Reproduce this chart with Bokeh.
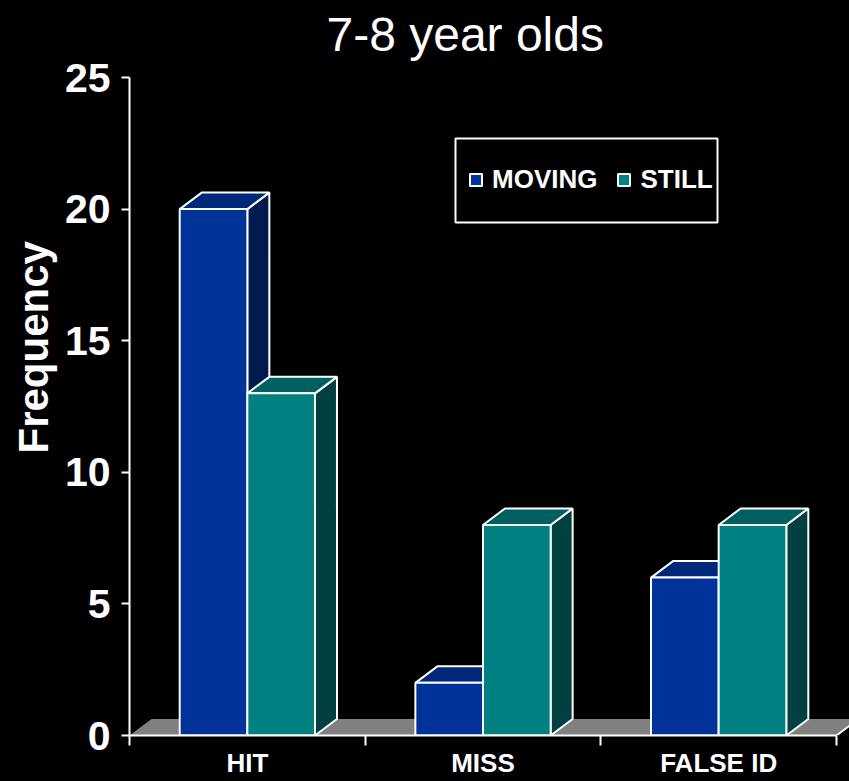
from bokeh.plotting import figure
from bokeh.models import (Range1d, FixedTicker, ColumnDataSource, Legend, LegendItem,
                          BoxAnnotation, Title, Label)
from bokeh.core.properties import value
from bokeh.embed import file_html
from bokeh.resources import INLINE

# ---- data ----
categories = ["HIT", "MISS", "FALSE ID"]
moving = [20, 2, 6]
still = [13, 8, 8]
y_ticks = [0, 5, 10, 15, 20, 25]
title_text = "7-8 year olds"
y_label = "Frequency"

# ---- layout constants ----
W, H = 849, 781
ML, MR, MB = 129, 0, 46
AXIS_TOP = 77                 # pixel row of the value 25
FRAME_W = W - ML - MR
FRAME_H = H - MB              # frame runs to the top of the canvas (room for title)
PX_PER_CAT = 707 / 3.0
XMAX = FRAME_W / PX_PER_CAT
YMAX = 25
PX_PER_Y = (H - MB - AXIS_TOP) / YMAX
YTOP = FRAME_H / PX_PER_Y
DX = 22 / PX_PER_CAT          # 3D depth offset (x)
DY = 16.5 / PX_PER_Y          # 3D depth offset (y)
BAR_W = 0.287

FONT = "Liberation Sans"
MOV_C = ("#003399", "#00287a", "#001a4d")   # front, top, side
STI_C = ("#008080", "#006060", "#004040")

p = figure(width=W, height=H, x_range=Range1d(0, XMAX), y_range=Range1d(0, YTOP),
           output_backend="svg", toolbar_location=None,
           background_fill_color="black", border_fill_color="black",
           outline_line_color=None, min_border_left=ML, min_border_right=MR,
           min_border_top=0, min_border_bottom=MB)
p.grid.visible = False

# ---- title (inside the extended frame, above the value axis) ----
p.add_layout(Label(x=(326 - ML) / PX_PER_CAT, y=(H - MB - 34) / PX_PER_Y,
                   text=title_text, text_align="left", text_baseline="alphabetic",
                   text_color="white", text_font=FONT, text_font_size="48px"))

# ---- floor ----
ncat = len(categories)
p.patch([0, ncat, ncat + DX, DX], [0, 0, DY, DY], fill_color="#808080",
        line_color=None)
p.line([ncat, ncat + DX], [0, DY], line_color="white", line_width=2)


def bar_sources(vals, offset):
    x0 = [i + 0.5 + offset for i in range(len(vals))]
    x1 = [a + BAR_W for a in x0]
    front = ColumnDataSource(dict(left=x0, right=x1, top=vals, bottom=[0] * len(vals)))
    top_xs = [[a, b, b + DX, a + DX] for a, b in zip(x0, x1)]
    top_ys = [[v, v, v + DY, v + DY] for v in vals]
    side_xs = [[b, b + DX, b + DX, b] for b in x1]
    side_ys = [[0, DY, v + DY, v] for v in vals]
    return front, (top_xs, top_ys), (side_xs, side_ys)


def draw_bars(vals, offset, colors):
    front, top, side = bar_sources(vals, offset)
    p.patches(side[0], side[1], fill_color=colors[2], line_color="white", line_width=2)
    p.patches(top[0], top[1], fill_color=colors[1], line_color="white", line_width=2)
    r = p.quad(left="left", right="right", top="top", bottom="bottom", source=front,
               fill_color=colors[0], line_color="white", line_width=2)
    return r


r_mov = draw_bars(moving, -BAR_W, MOV_C)
r_sti = draw_bars(still, 0.0, STI_C)

# ---- y axis ----
ya = p.yaxis[0]
ya.ticker = FixedTicker(ticks=y_ticks)
ya.bounds = (0, YMAX)
ya.axis_line_color = "white"
ya.axis_line_width = 2
ya.major_tick_line_color = "white"
ya.major_tick_line_width = 2
ya.major_tick_out = 8
ya.major_tick_in = 0
ya.minor_tick_line_color = None
ya.major_label_text_color = "white"
ya.major_label_text_font = FONT
ya.major_label_text_font_style = "bold"
ya.major_label_text_font_size = "41px"
ya.major_label_standoff = 11

# "Frequency" as a left-side title, placed like the reference
p.add_layout(Title(text=y_label, align="left", offset=282, standoff=10,
                   text_color="white", text_font=FONT, text_font_style="bold",
                   text_font_size="42px"), "left")

# ---- x axis ----
xa = p.xaxis[0]
xa.ticker = FixedTicker(ticks=[i + 0.5 for i in range(ncat)],
                        minor_ticks=list(range(ncat + 1)))
xa.major_label_overrides = {i + 0.5: c for i, c in enumerate(categories)}
xa.bounds = (0, ncat)
xa.axis_line_color = "white"
xa.axis_line_width = 2
xa.major_tick_line_color = None
xa.major_tick_out = 0
xa.major_tick_in = 0
xa.minor_tick_line_color = "white"
xa.minor_tick_line_width = 2
xa.minor_tick_out = 10
xa.minor_tick_in = 0
xa.major_label_standoff = 2
xa.major_label_text_color = "white"
xa.major_label_text_font = FONT
xa.major_label_text_font_style = "bold"
xa.major_label_text_font_size = "26px"

# ---- legend ----
p.add_layout(BoxAnnotation(left=(455 - ML) / PX_PER_CAT, right=(717 - ML) / PX_PER_CAT,
                           top=(H - MB - 138) / PX_PER_Y, bottom=(H - MB - 222) / PX_PER_Y,
                           fill_color="black", fill_alpha=1.0,
                           line_color="white", line_width=2, line_alpha=1.0))

legend = Legend(items=[LegendItem(label=value("MOVING"), renderers=[r_mov]),
                       LegendItem(label=value("STILL"), renderers=[r_sti])],
                orientation="horizontal", location=(339, 540),
                background_fill_alpha=0, border_line_color=None,
                padding=0, margin=0, spacing=19, label_standoff=9,
                glyph_width=15, glyph_height=15,
                label_text_color="white", label_text_font=FONT,
                label_text_font_style="bold", label_text_font_size="26px")
p.add_layout(legend)

html = file_html(p, INLINE)
html = html.replace("</head>", "<style>html, body { background: #000000; }</style></head>", 1)
open("out.html", "w").write(html)
